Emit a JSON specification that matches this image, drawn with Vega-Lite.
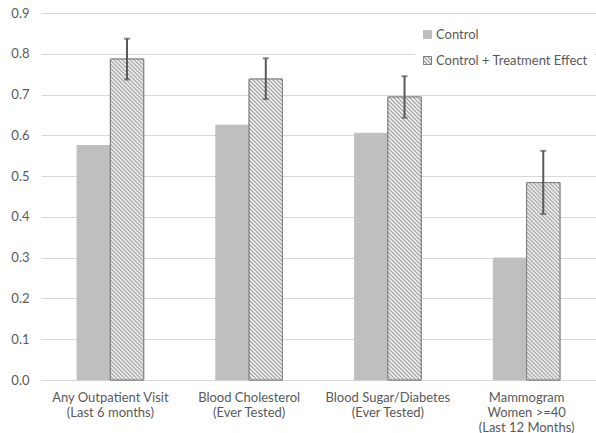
{
  "$schema": "https://vega.github.io/schema/vega-lite/v6.json",
  "width": 555,
  "height": 367,
  "autosize": {"type": "none"},
  "padding": {"left": 41, "top": 13, "right": 0, "bottom": 53},
  "background": "white",
  "config": {
    "view": {"stroke": null},
    "font": "Lato",
    "axis": {"labelColor": "#595959", "labelFontSize": 13, "labelFont": "Lato"},
    "legend": {"labelFont": "Lato"}
  },
  "params": [
    {"name": "hatchStops", "value": [
      {"offset":0,"color":"#a0a0a0"},{"offset":0.005,"color":"#fff"},{"offset":0.01,"color":"#a0a0a0"},{"offset":0.015,"color":"#fff"},
      {"offset":0.02,"color":"#a0a0a0"},{"offset":0.025,"color":"#fff"},{"offset":0.03,"color":"#a0a0a0"},{"offset":0.035,"color":"#fff"},
      {"offset":0.04,"color":"#a0a0a0"},{"offset":0.045,"color":"#fff"},{"offset":0.05,"color":"#a0a0a0"},{"offset":0.055,"color":"#fff"},
      {"offset":0.06,"color":"#a0a0a0"},{"offset":0.065,"color":"#fff"},{"offset":0.07,"color":"#a0a0a0"},{"offset":0.075,"color":"#fff"},
      {"offset":0.08,"color":"#a0a0a0"},{"offset":0.085,"color":"#fff"},{"offset":0.09,"color":"#a0a0a0"},{"offset":0.095,"color":"#fff"},
      {"offset":0.1,"color":"#a0a0a0"},{"offset":0.105,"color":"#fff"},{"offset":0.11,"color":"#a0a0a0"},{"offset":0.115,"color":"#fff"},
      {"offset":0.12,"color":"#a0a0a0"},{"offset":0.125,"color":"#fff"},{"offset":0.13,"color":"#a0a0a0"},{"offset":0.135,"color":"#fff"},
      {"offset":0.14,"color":"#a0a0a0"},{"offset":0.145,"color":"#fff"},{"offset":0.15,"color":"#a0a0a0"},{"offset":0.155,"color":"#fff"},
      {"offset":0.16,"color":"#a0a0a0"},{"offset":0.165,"color":"#fff"},{"offset":0.17,"color":"#a0a0a0"},{"offset":0.175,"color":"#fff"},
      {"offset":0.18,"color":"#a0a0a0"},{"offset":0.185,"color":"#fff"},{"offset":0.19,"color":"#a0a0a0"},{"offset":0.195,"color":"#fff"},
      {"offset":0.2,"color":"#a0a0a0"},{"offset":0.205,"color":"#fff"},{"offset":0.21,"color":"#a0a0a0"},{"offset":0.215,"color":"#fff"},
      {"offset":0.22,"color":"#a0a0a0"},{"offset":0.225,"color":"#fff"},{"offset":0.23,"color":"#a0a0a0"},{"offset":0.235,"color":"#fff"},
      {"offset":0.24,"color":"#a0a0a0"},{"offset":0.245,"color":"#fff"},{"offset":0.25,"color":"#a0a0a0"},{"offset":0.255,"color":"#fff"},
      {"offset":0.26,"color":"#a0a0a0"},{"offset":0.265,"color":"#fff"},{"offset":0.27,"color":"#a0a0a0"},{"offset":0.275,"color":"#fff"},
      {"offset":0.28,"color":"#a0a0a0"},{"offset":0.285,"color":"#fff"},{"offset":0.29,"color":"#a0a0a0"},{"offset":0.295,"color":"#fff"},
      {"offset":0.3,"color":"#a0a0a0"},{"offset":0.305,"color":"#fff"},{"offset":0.31,"color":"#a0a0a0"},{"offset":0.315,"color":"#fff"},
      {"offset":0.32,"color":"#a0a0a0"},{"offset":0.325,"color":"#fff"},{"offset":0.33,"color":"#a0a0a0"},{"offset":0.335,"color":"#fff"},
      {"offset":0.34,"color":"#a0a0a0"},{"offset":0.345,"color":"#fff"},{"offset":0.35,"color":"#a0a0a0"},{"offset":0.355,"color":"#fff"},
      {"offset":0.36,"color":"#a0a0a0"},{"offset":0.365,"color":"#fff"},{"offset":0.37,"color":"#a0a0a0"},{"offset":0.375,"color":"#fff"},
      {"offset":0.38,"color":"#a0a0a0"},{"offset":0.385,"color":"#fff"},{"offset":0.39,"color":"#a0a0a0"},{"offset":0.395,"color":"#fff"},
      {"offset":0.4,"color":"#a0a0a0"},{"offset":0.405,"color":"#fff"},{"offset":0.41,"color":"#a0a0a0"},{"offset":0.415,"color":"#fff"},
      {"offset":0.42,"color":"#a0a0a0"},{"offset":0.425,"color":"#fff"},{"offset":0.43,"color":"#a0a0a0"},{"offset":0.435,"color":"#fff"},
      {"offset":0.44,"color":"#a0a0a0"},{"offset":0.445,"color":"#fff"},{"offset":0.45,"color":"#a0a0a0"},{"offset":0.455,"color":"#fff"},
      {"offset":0.46,"color":"#a0a0a0"},{"offset":0.465,"color":"#fff"},{"offset":0.47,"color":"#a0a0a0"},{"offset":0.475,"color":"#fff"},
      {"offset":0.48,"color":"#a0a0a0"},{"offset":0.485,"color":"#fff"},{"offset":0.49,"color":"#a0a0a0"},{"offset":0.495,"color":"#fff"},
      {"offset":0.5,"color":"#a0a0a0"},{"offset":0.505,"color":"#fff"},{"offset":0.51,"color":"#a0a0a0"},{"offset":0.515,"color":"#fff"},
      {"offset":0.52,"color":"#a0a0a0"},{"offset":0.525,"color":"#fff"},{"offset":0.53,"color":"#a0a0a0"},{"offset":0.535,"color":"#fff"},
      {"offset":0.54,"color":"#a0a0a0"},{"offset":0.545,"color":"#fff"},{"offset":0.55,"color":"#a0a0a0"},{"offset":0.555,"color":"#fff"},
      {"offset":0.56,"color":"#a0a0a0"},{"offset":0.565,"color":"#fff"},{"offset":0.57,"color":"#a0a0a0"},{"offset":0.575,"color":"#fff"},
      {"offset":0.58,"color":"#a0a0a0"},{"offset":0.585,"color":"#fff"},{"offset":0.59,"color":"#a0a0a0"},{"offset":0.595,"color":"#fff"},
      {"offset":0.6,"color":"#a0a0a0"},{"offset":0.605,"color":"#fff"},{"offset":0.61,"color":"#a0a0a0"},{"offset":0.615,"color":"#fff"},
      {"offset":0.62,"color":"#a0a0a0"},{"offset":0.625,"color":"#fff"},{"offset":0.63,"color":"#a0a0a0"},{"offset":0.635,"color":"#fff"},
      {"offset":0.64,"color":"#a0a0a0"},{"offset":0.645,"color":"#fff"},{"offset":0.65,"color":"#a0a0a0"},{"offset":0.655,"color":"#fff"},
      {"offset":0.66,"color":"#a0a0a0"},{"offset":0.665,"color":"#fff"},{"offset":0.67,"color":"#a0a0a0"},{"offset":0.675,"color":"#fff"},
      {"offset":0.68,"color":"#a0a0a0"},{"offset":0.685,"color":"#fff"},{"offset":0.69,"color":"#a0a0a0"},{"offset":0.695,"color":"#fff"},
      {"offset":0.7,"color":"#a0a0a0"},{"offset":0.705,"color":"#fff"},{"offset":0.71,"color":"#a0a0a0"},{"offset":0.715,"color":"#fff"},
      {"offset":0.72,"color":"#a0a0a0"},{"offset":0.725,"color":"#fff"},{"offset":0.73,"color":"#a0a0a0"},{"offset":0.735,"color":"#fff"},
      {"offset":0.74,"color":"#a0a0a0"},{"offset":0.745,"color":"#fff"},{"offset":0.75,"color":"#a0a0a0"},{"offset":0.755,"color":"#fff"},
      {"offset":0.76,"color":"#a0a0a0"},{"offset":0.765,"color":"#fff"},{"offset":0.77,"color":"#a0a0a0"},{"offset":0.775,"color":"#fff"},
      {"offset":0.78,"color":"#a0a0a0"},{"offset":0.785,"color":"#fff"},{"offset":0.79,"color":"#a0a0a0"},{"offset":0.795,"color":"#fff"},
      {"offset":0.8,"color":"#a0a0a0"},{"offset":0.805,"color":"#fff"},{"offset":0.81,"color":"#a0a0a0"},{"offset":0.815,"color":"#fff"},
      {"offset":0.82,"color":"#a0a0a0"},{"offset":0.825,"color":"#fff"},{"offset":0.83,"color":"#a0a0a0"},{"offset":0.835,"color":"#fff"},
      {"offset":0.84,"color":"#a0a0a0"},{"offset":0.845,"color":"#fff"},{"offset":0.85,"color":"#a0a0a0"},{"offset":0.855,"color":"#fff"},
      {"offset":0.86,"color":"#a0a0a0"},{"offset":0.865,"color":"#fff"},{"offset":0.87,"color":"#a0a0a0"},{"offset":0.875,"color":"#fff"},
      {"offset":0.88,"color":"#a0a0a0"},{"offset":0.885,"color":"#fff"},{"offset":0.89,"color":"#a0a0a0"},{"offset":0.895,"color":"#fff"},
      {"offset":0.9,"color":"#a0a0a0"}
    ]}
  ],
  "data": {"values": [
    {"measure": "Any Outpatient Visit (Last 6 months)", "series": "Control", "value": 0.575},
    {"measure": "Any Outpatient Visit (Last 6 months)", "series": "Control + Treatment Effect", "value": 0.787, "lo": 0.737, "hi": 0.837},
    {"measure": "Blood Cholesterol (Ever Tested)", "series": "Control", "value": 0.625},
    {"measure": "Blood Cholesterol (Ever Tested)", "series": "Control + Treatment Effect", "value": 0.738, "lo": 0.689, "hi": 0.789},
    {"measure": "Blood Sugar/Diabetes (Ever Tested)", "series": "Control", "value": 0.605},
    {"measure": "Blood Sugar/Diabetes (Ever Tested)", "series": "Control + Treatment Effect", "value": 0.694, "lo": 0.643, "hi": 0.745},
    {"measure": "Mammogram Women >=40 (Last 12 Months)", "series": "Control", "value": 0.299},
    {"measure": "Mammogram Women >=40 (Last 12 Months)", "series": "Control + Treatment Effect", "value": 0.484, "lo": 0.407, "hi": 0.562}
  ]},
  "encoding": {
    "x": {
      "field": "measure", "type": "nominal", "sort": null, "title": null,
      "scale": {"paddingInner": 0.52, "paddingOuter": 0.26},
      "axis": {
        "labelAngle": 0, "ticks": false, "domainColor": "#d9d9d9", "domainWidth": 1,
        "labelPadding": 11, "labelLineHeight": 15, "labelBaseline": "top",
        "labelExpr": "datum.label == 'Mammogram Women >=40 (Last 12 Months)' ? ['Mammogram', 'Women >=40', '(Last 12 Months)'] : split(replace(datum.label, ' (', '|('), '|')"
      }
    },
    "xOffset": {"field": "series", "type": "nominal", "sort": null, "scale": {"paddingInner": 0, "paddingOuter": 0}}
  },
  "layer": [
    {
      "mark": {"type": "bar", "strokeWidth": 1},
      "encoding": {
        "y": {
          "field": "value", "type": "quantitative", "title": null,
          "scale": {"domain": [0, 0.9], "nice": false, "zero": true},
          "axis": {
            "values": [0, 0.1, 0.2, 0.3, 0.4, 0.5, 0.6, 0.7, 0.8, 0.9], "format": ".1f",
            "grid": true, "gridColor": "#d9d9d9", "gridWidth": 1, "domain": false, "ticks": false, "labelPadding": 12
          }
        },
        "fill": {
          "field": "series", "type": "nominal", "sort": null,
          "scale": {"domain": ["Control", "Control + Treatment Effect"], "range": ["#bfbfbf", {"expr": "{gradient: 'linear', x1: 0, y1: 1, x2: 25, y2: -24, stops: hatchStops}"}]},
          "legend": {
            "orient": "none", "legendX": 374, "legendY": 9, "title": null,
            "symbolType": "square", "symbolSize": 64, "symbolOpacity": 1, "symbolStrokeWidth": 1,
            "labelFontSize": 13, "labelColor": "#595959", "labelOffset": 2, "rowPadding": 12,
            "padding": 6, "fillColor": "white"
          }
        },
        "stroke": {
          "field": "series", "type": "nominal", "sort": null,
          "scale": {"domain": ["Control", "Control + Treatment Effect"], "range": ["#bfbfbf", "#7f7f7f"]},
          "legend": {
            "orient": "none", "legendX": 374, "legendY": 9, "title": null,
            "symbolType": "square", "symbolSize": 64, "symbolOpacity": 1, "symbolStrokeWidth": 1,
            "labelFontSize": 13, "labelColor": "#595959", "labelOffset": 2, "rowPadding": 12,
            "padding": 6, "fillColor": "white"
          }
        }
      }
    },
    {
      "transform": [{"filter": "datum.series !== 'Control'"}],
      "mark": {"type": "bar", "stroke": "#7f7f7f", "strokeWidth": 1},
      "encoding": {
        "y": {"field": "value", "type": "quantitative", "title": null},
        "fill": {"value": {"expr": "{gradient: 'linear', x1: 0, y1: 1, x2: 400*(bandwidth('x')/2)/(pow(bandwidth('x')/2,2)+pow(scale('y',0)-scale('y',datum.value),2)), y2: 1-400*(scale('y',0)-scale('y',datum.value))/(pow(bandwidth('x')/2,2)+pow(scale('y',0)-scale('y',datum.value),2)), stops: hatchStops}"}}
      }
    },
    {
      "transform": [{"filter": "datum.series !== 'Control'"}],
      "mark": {"type": "rule", "color": "#595959", "strokeWidth": 2},
      "encoding": {
        "y": {"field": "lo", "type": "quantitative", "title": null},
        "y2": {"field": "hi"}
      }
    },
    {
      "transform": [{"filter": "datum.series !== 'Control'"}],
      "mark": {"type": "tick", "color": "#595959", "thickness": 2, "size": 6, "orient": "horizontal"},
      "encoding": {"y": {"field": "hi", "type": "quantitative", "title": null}}
    },
    {
      "transform": [{"filter": "datum.series !== 'Control'"}],
      "mark": {"type": "tick", "color": "#595959", "thickness": 2, "size": 6, "orient": "horizontal"},
      "encoding": {"y": {"field": "lo", "type": "quantitative", "title": null}}
    }
  ]
}
